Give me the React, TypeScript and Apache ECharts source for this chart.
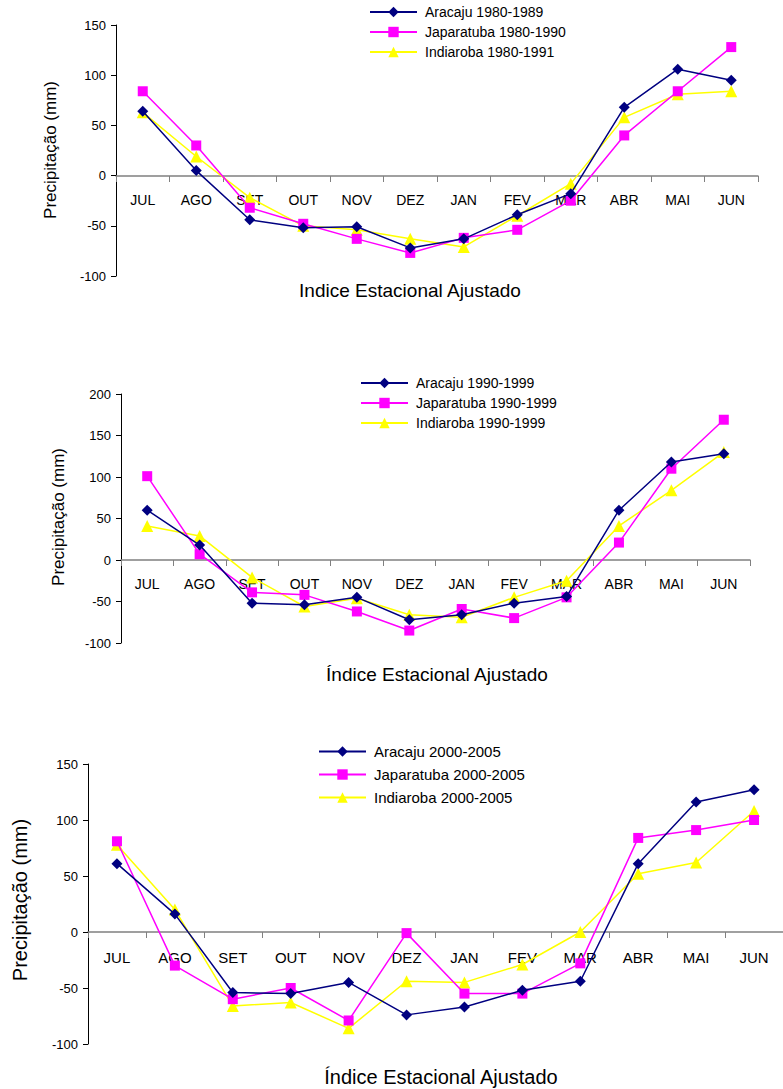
import React, { useEffect, useRef } from "react";
import * as echarts from "echarts";

const months = ["JUL", "AGO", "SET", "OUT", "NOV", "DEZ", "JAN", "FEV", "MAR", "ABR", "MAI", "JUN"];

const names1 = ["Aracaju 1980-1989", "Japaratuba 1980-1990", "Indiaroba 1980-1991"];
const aracaju1 = [64, 5, -44, -52, -51, -72, -63, -39, -18, 68, 106, 95];
const japaratuba1 = [84, 30, -32, -48, -63, -77, -62, -54, -25, 40, 84, 128];
const indiaroba1 = [63, 19, -22, -50, -54, -63, -71, -40, -8, 58, 81, 84];

const names2 = ["Aracaju 1990-1999", "Japaratuba 1990-1999", "Indiaroba 1990-1999"];
const aracaju2 = [60, 18, -52, -54, -45, -72, -66, -52, -44, 60, 118, 128];
const japaratuba2 = [101, 7, -39, -42, -62, -85, -59, -70, -45, 21, 110, 169];
const indiaroba2 = [41, 29, -21, -56, -46, -66, -69, -45, -25, 41, 84, 130];

const names3 = ["Aracaju 2000-2005", "Japaratuba 2000-2005", "Indiaroba 2000-2005"];
const aracaju3 = [61, 16, -54, -55, -45, -74, -67, -52, -44, 61, 116, 127];
const japaratuba3 = [81, -30, -60, -50, -79, -1, -55, -55, -28, 84, 91, 100];
const indiaroba3 = [78, 20, -66, -63, -86, -44, -45, -29, 0, 52, 62, 108];

const yMin1 = -100, yMax1 = 150;
const yMin2 = -100, yMax2 = 200;
const yMin3 = -100, yMax3 = 150;

const FONT = "'Liberation Sans', Arial, sans-serif";

const grids = [
  { left: 116, top: 25, width: 642, height: 251 },
  { left: 121, top: 394, width: 629, height: 249 },
  { left: 88, top: 764, width: 705, height: 280 },
];

const styles = [
  { color: "#000080", symbol: "diamond", size: 11 },
  { color: "#FF00FF", symbol: "rect", size: 10 },
  { color: "#FFFF00", symbol: "triangle", size: 12 },
];

function buildSeries(names: string[], data: number[][], idx: number) {
  return names.map((n, i) => ({
    name: n,
    type: "line",
    xAxisIndex: idx,
    yAxisIndex: idx,
    data: data[i],
    symbol: styles[i].symbol,
    symbolSize: styles[i].size,
    lineStyle: { color: styles[i].color, width: 1.5 },
    itemStyle: { color: styles[i].color },
    z: 3 - i + 2,
  }));
}

function xAxis(idx: number, min: number, max: number, margin: number, fontSize: number) {
  const h = grids[idx].height;
  const offset = -Math.round((h * (0 - min)) / (max - min));
  return {
    type: "category",
    gridIndex: idx,
    data: months,
    boundaryGap: true,
    offset,
    axisLine: { onZero: false, lineStyle: { color: "#808080", width: 1.5 } },
    axisTick: { show: true, length: 6, lineStyle: { color: "#808080" } },
    axisLabel: { color: "#000", fontSize, fontFamily: FONT, margin },
    splitLine: { show: false },
  };
}

function yAxis(idx: number, min: number, max: number) {
  return {
    type: "value",
    gridIndex: idx,
    min,
    max,
    interval: 50,
    axisLine: { show: true, lineStyle: { color: "#000", width: 1 } },
    axisTick: { show: true, length: 5, lineStyle: { color: "#000" } },
    axisLabel: { color: "#000", fontSize: 13, fontFamily: FONT, margin: 10 },
    splitLine: { show: false },
  };
}

function legend(names: string[], left: number, top: number, gap: number, fontSize: number) {
  return {
    data: names,
    orient: "vertical",
    left,
    top,
    itemWidth: 47,
    itemHeight: 13,
    itemGap: gap,
    textStyle: { color: "#000", fontSize, fontFamily: FONT, padding: [0, 0, 0, 3] },
    padding: 0,
  };
}

function title(text: string, x: number, y: number, size: number, rotate = false) {
  return {
    type: "text",
    x,
    y,
    rotation: rotate ? Math.PI / 2 : 0,
    style: {
      text,
      fill: "#000",
      fontSize: size,
      fontFamily: FONT,
      textAlign: "center",
      textVerticalAlign: "middle",
    },
  };
}

export default function App() {
  const ref = useRef<HTMLDivElement>(null);
  useEffect(() => {
    if (!ref.current) return;
    const chart = echarts.init(ref.current, undefined, { renderer: "svg" });
    chart.setOption({
      animation: false,
      backgroundColor: "#fff",
      grid: grids,
      xAxis: [
        xAxis(0, yMin1, yMax1, 17, 14),
        xAxis(1, yMin2, yMax2, 17, 14),
        xAxis(2, yMin3, yMax3, 18, 15),
      ],
      yAxis: [yAxis(0, yMin1, yMax1), yAxis(1, yMin2, yMax2), yAxis(2, yMin3, yMax3)],
      legend: [
        legend(names1, 369, 5, 6, 14),
        legend(names2, 360, 376, 6, 14),
        legend(names3, 318, 744, 8, 15),
      ],
      series: [
        ...buildSeries(names1, [aracaju1, japaratuba1, indiaroba1], 0),
        ...buildSeries(names2, [aracaju2, japaratuba2, indiaroba2], 1),
        ...buildSeries(names3, [aracaju3, japaratuba3, indiaroba3], 2),
      ],
      graphic: [
        title("Precipitação (mm)", 50, 150, 17, true),
        title("Indice Estacional Ajustado", 410, 290, 19),
        title("Precipitação (mm)", 58, 517, 17, true),
        title("Índice Estacional Ajustado", 437, 674, 19),
        title("Precipitação (mm)", 20, 900, 20, true),
        title("Índice Estacional Ajustado", 441, 1077, 20),
      ],
    });
    return () => chart.dispose();
  }, []);
  return <div ref={ref} style={{ position: "absolute", left: 0, top: 0, width: 783, height: 1089 }} />;
}
